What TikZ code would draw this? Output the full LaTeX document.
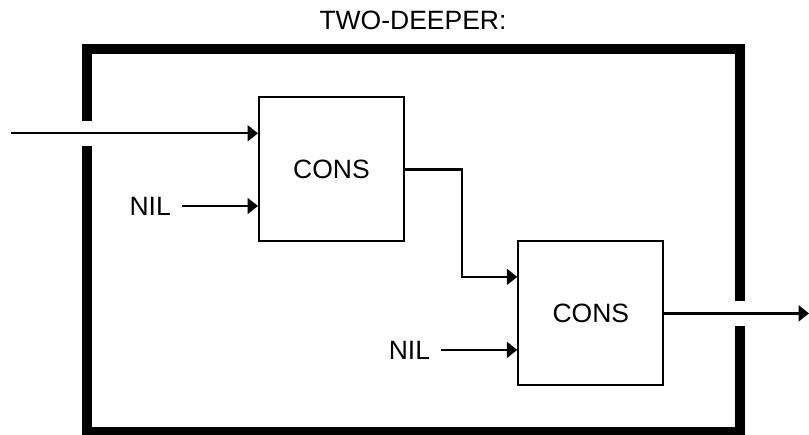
\documentclass[tikz,border=0pt]{standalone}
\usepackage{fontspec}
\setmainfont{Liberation Sans}
\usetikzlibrary{arrows.meta,calc}
\tikzset{
  consbox/.style={draw, line width=2pt, minimum width=145pt, minimum height=144pt, inner sep=0pt, font=\fontsize{26.5}{30}\selectfont},
  lbl/.style={inner sep=0pt, font=\fontsize{26.5}{30}\selectfont},
  wire/.style={line width=2.3pt, -{Triangle[length=10.5pt,width=16pt]}},
  frame/.style={line width=10pt, line cap=butt, line join=miter}
}
\begin{document}
\begin{tikzpicture}[x=1pt,y=-1pt]
\useasboundingbox (0,0) rectangle (809,435);
% title
\node[lbl, anchor=base] (title) at (413,30) {TWO-DEEPER:};
% outer frame with gaps
\draw[frame] (87,120.7) -- (87,49.5) -- (740,49.5) -- (740,301);
\draw[frame] (740,326) -- (740,432) -- (87,432) -- (87,145.7);
% boxes
\node[consbox] (b1) at (331.5,169.5) {CONS};
\node[consbox] (b2) at (590.8,313.4) {CONS};
% input ports
\coordinate (b1a) at ($(b1.north west)!0.25!(b1.south west)$);
\coordinate (b1b) at ($(b1.north west)!0.75!(b1.south west)$);
\coordinate (b2a) at ($(b2.north west)!0.25!(b2.south west)$);
\coordinate (b2b) at ($(b2.north west)!0.75!(b2.south west)$);
% external ends
\coordinate (in) at (10.7,133.3);
\coordinate (out) at (809,313.4);
% NIL labels
\node[lbl, anchor=east] (nil1) at ($(b1b)+(-87,0)$) {NIL};
\node[lbl, anchor=east] (nil2) at ($(b2b)+(-87,0)$) {NIL};
% connectors
\draw[wire] (in) -- (in -| b1.west);
\draw[wire] ($(nil1.east)+(11,0)$) -- (b1b);
\draw[wire] (b1.east) -- ++(57,0) |- (b2a);
\draw[wire] ($(nil2.east)+(11,0)$) -- (b2b);
\draw[wire] (b2.east) -- (out);
\end{tikzpicture}
\end{document}
